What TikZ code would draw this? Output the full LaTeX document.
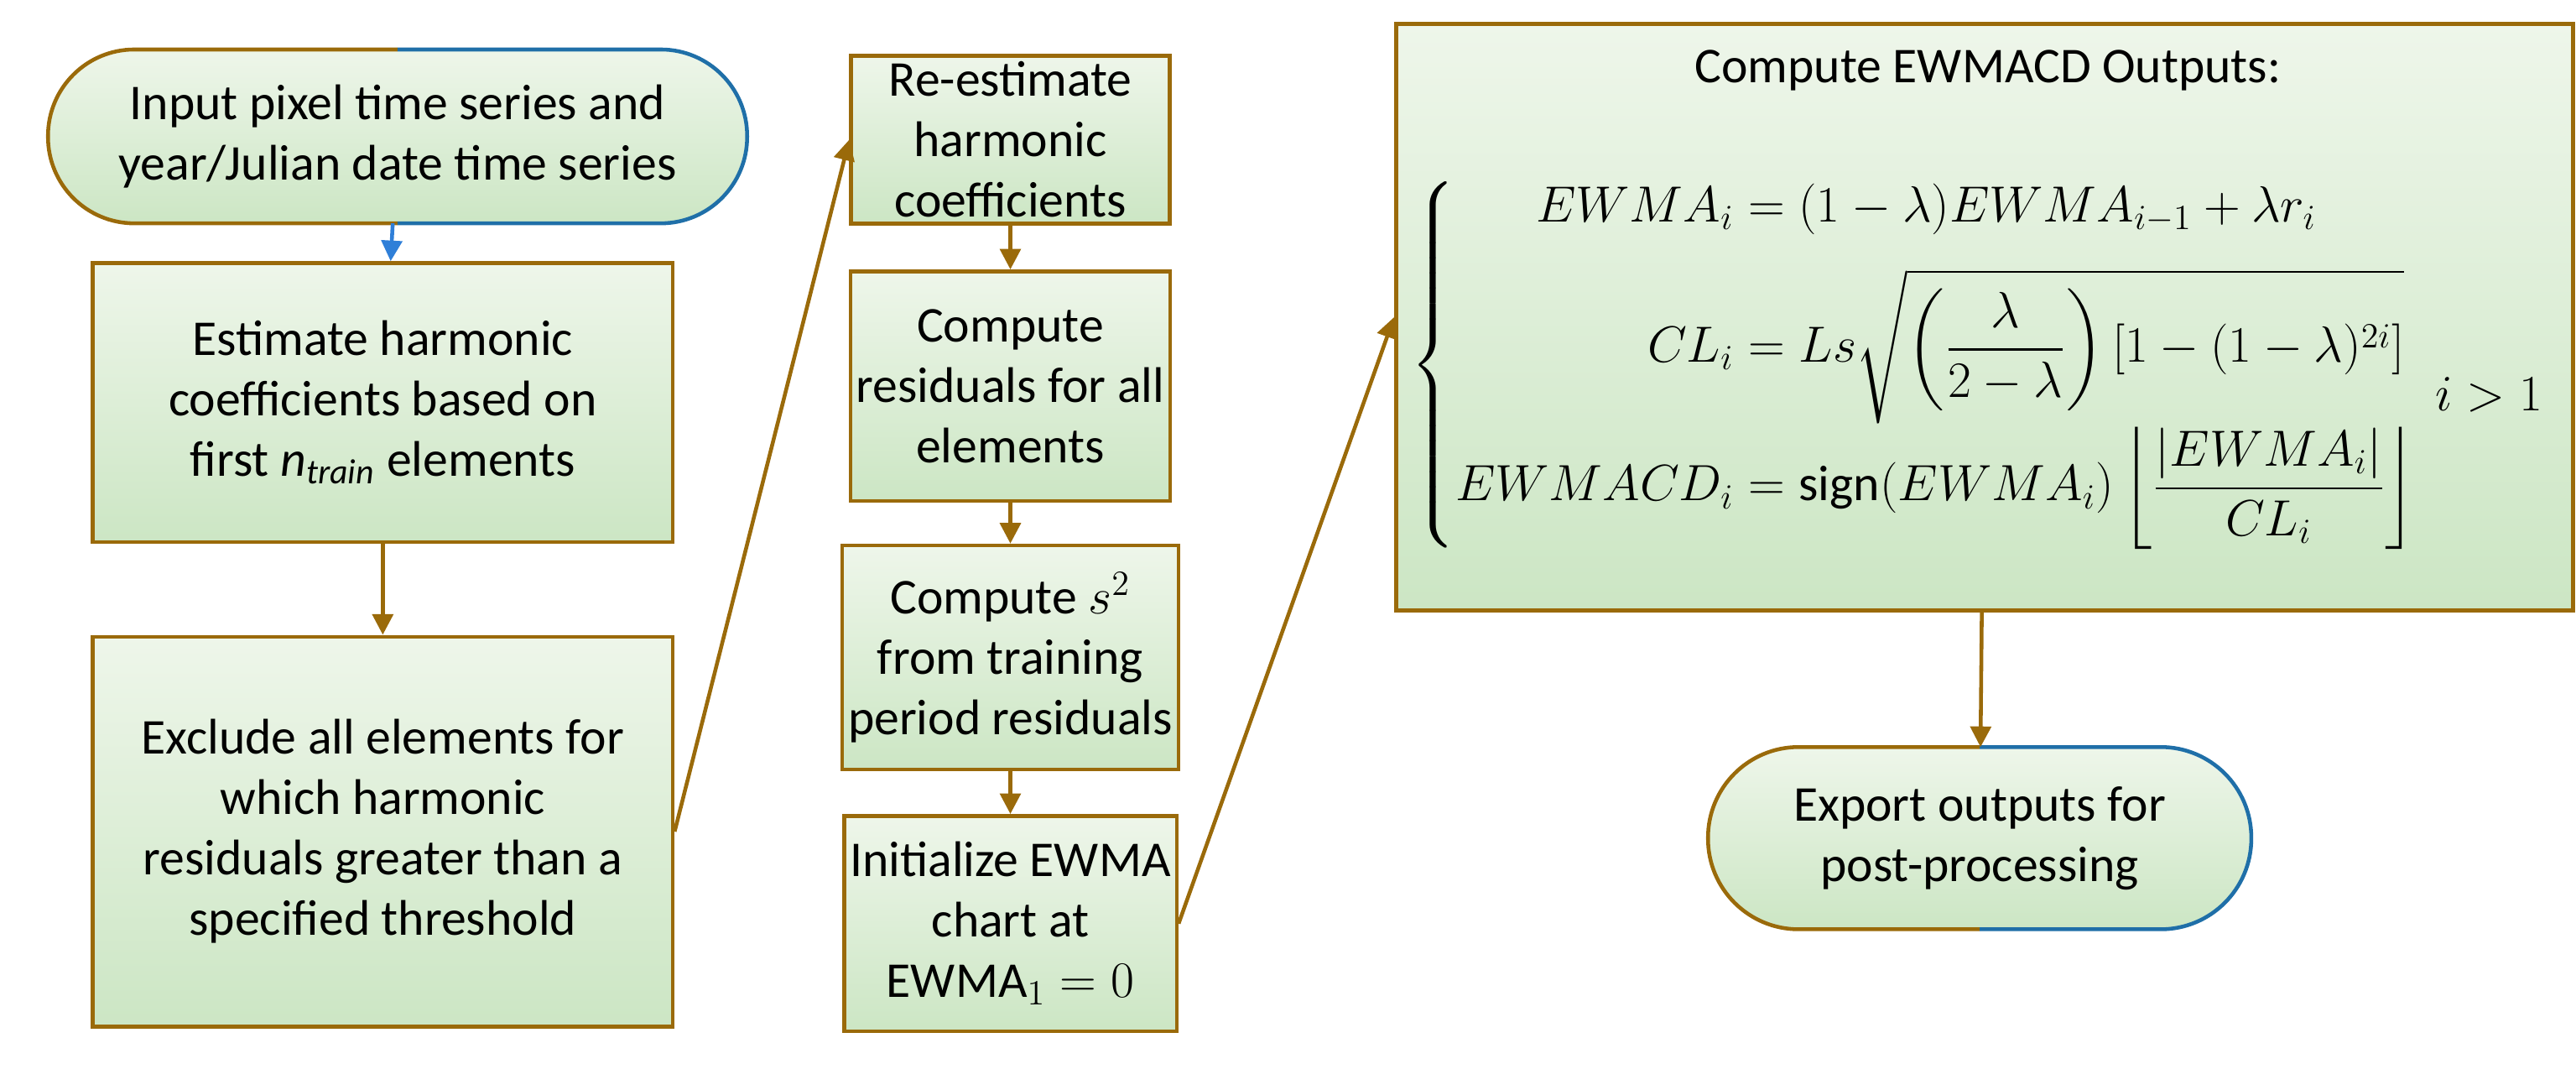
\documentclass[tikz,border=0pt]{standalone}
\usepackage{amsmath}
\usepackage{fontspec}
\setmainfont{Carlito}
\usetikzlibrary{arrows.meta,backgrounds}
\definecolor{brn}{HTML}{9A6A0A}
\definecolor{blu}{HTML}{1F6FA8}
\definecolor{arb}{HTML}{2F7FD8}
\definecolor{gtop}{HTML}{EEF6EA}
\definecolor{gbot}{HTML}{CCE6C4}
\begin{document}
\begin{tikzpicture}[x=0.0196cm,y=-0.0196cm,
  box/.style={draw=brn,line width=1.3pt,top color=gtop,bottom color=gbot,align=center,inner sep=2pt,font=\fontsize{17}{20.5}\selectfont},
  term/.style={align=center,inner sep=2pt,font=\fontsize{17}{20.5}\selectfont},
  arr/.style={draw=brn,line width=1.3pt,-{Triangle[length=7pt,width=7pt]}}]
\useasboundingbox (0,0) rectangle (1568,663);
\node[box,minimum width=6.92cm,minimum height=3.33cm] (b1) at (233,245) {Estimate harmonic\\coefficients based on\\first \textit{n}$_{\mathit{train}}$ elements};
\node[box,minimum width=6.92cm,minimum height=4.65cm] (b2) at (233,506) {Exclude all elements for\\which harmonic\\residuals greater than a\\specified threshold};
\node[box,minimum width=3.8cm,minimum height=1.96cm] (c1) at (615,85) {Re-estimate\\harmonic\\coefficients};
\node[box,minimum width=3.8cm,minimum height=2.74cm] (c2) at (615,235) {Compute\\residuals for all\\elements};
\node[box,minimum width=3.8cm,minimum height=2.67cm] (c3) at (615,400) {Compute $s^2$\\from training\\period residuals};
\node[box,minimum width=3.8cm,minimum height=2.57cm] (c4) at (615,562) {Initialize EWMA\\chart at\\$\mathrm{EWMA}_1=0$};
\node[box,minimum width=14.05cm,minimum height=7.0cm] (big) at (1208,193) {};
\node[font=\fontsize{17}{20}\selectfont] (title) at (1210,43) {Compute EWMACD Outputs:};
\node[font=\fontsize{17}{20}\selectfont,anchor=west] (eq) at (852,222) {$\displaystyle\left\{\begin{array}{@{}r@{}l@{}}
 EWMA_i &{}= (1-\lambda)EWMA_{i-1}+\lambda r_i\\[10pt]
 CL_i &{}= Ls\sqrt{\left(\dfrac{\lambda}{2-\lambda}\right)\left[1-(1-\lambda)^{2i}\right]}\\[16pt]
 EWMACD_i &{}= \operatorname{sign}(EWMA_i)\left\lfloor\dfrac{|EWMA_i|}{CL_i}\right\rfloor
\end{array}\right.$};
\node[font=\fontsize{17}{20}\selectfont] (cond) at (1515,240) {$i>1$};
\node[term,minimum width=8.33cm,minimum height=2.06cm] (t1) at (242,83) {Input pixel time series and\\year/Julian date time series};
\node[term,minimum width=6.47cm,minimum height=2.16cm] (t2) at (1205,510) {Export outputs for\\post-processing};
\begin{scope}[on background layer]
\foreach \n/\r in {t1/1.03cm,t2/1.08cm}{
  \path[top color=gtop,bottom color=gbot,rounded corners=\r] (\n.south west) rectangle (\n.north east);
  \begin{scope}
    \clip ([yshift=20pt,xshift=-20pt]\n.north west) rectangle ([yshift=-20pt]\n.south);
    \draw[brn,line width=1.3pt,rounded corners=\r] (\n.south west) rectangle (\n.north east);
  \end{scope}
  \begin{scope}
    \clip ([yshift=20pt,xshift=20pt]\n.north east) rectangle ([yshift=-20pt]\n.south);
    \draw[blu,line width=1.3pt,rounded corners=\r] (\n.south west) rectangle (\n.north east);
  \end{scope}
}
\end{scope}
\draw[arr,draw=arb] (t1) -- (b1);
\draw[arr] (b1) -- (b2);
\draw[arr] (b2.east) -- (c1.west);
\draw[arr] (c1) -- (c2);
\draw[arr] (c2) -- (c3);
\draw[arr] (c3) -- (c4);
\draw[arr] (c4.east) -- (big.west);
\draw[arr] (big) -- (t2);
\end{tikzpicture}
\end{document}
